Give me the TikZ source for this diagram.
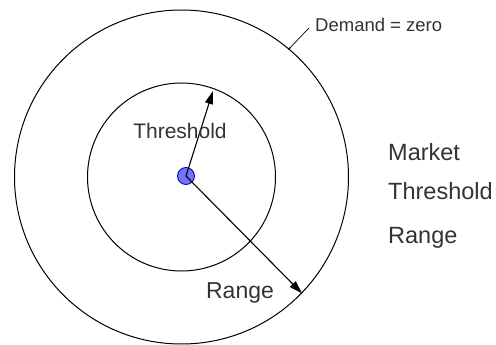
\documentclass[tikz,border=0pt]{standalone}
\usepackage{fontspec}
\setmainfont{Liberation Sans}
\usetikzlibrary{arrows.meta,positioning}

\begin{document}
\begin{tikzpicture}[x=1pt,y=-1pt,
      ring/.style={draw,circle,line width=1pt,inner sep=0pt},
      radius/.style={line width=1.1pt,-{Triangle[length=13pt,width=8pt]}},
      lbl/.style={inner sep=0pt,font=\fontsize{21}{25}\selectfont},
      key/.style={lbl,anchor=west,font=\fontsize{23.5}{28}\selectfont},
      every node/.style={text=black!80}
]
\useasboundingbox (0,0) rectangle (496,345);
\node[ring,minimum size=334pt] (outer) at (181.5,177) {};
\node[ring,minimum size=188pt] (inner) at (181.5,177) {};
\node[circle,draw=blue!50!black,fill=blue!55!white,line width=0.8pt,minimum size=17pt,inner sep=0pt] (dot) at (186,176) {};

\draw[radius,shorten >=3pt] (dot.center) -- (inner.70);
\draw[radius] (dot.center) -- (outer.-44);

\node[lbl] (thr) at (180,131) {Threshold};
\node[lbl,font=\fontsize{23}{27}\selectfont] (rng) at (240,293) {Range};

\node[inner sep=0pt,anchor=west,font=\fontsize{18.5}{22}\selectfont] (dz) at (315,25) {Demand = zero};
\draw[line width=0.7pt] (outer.50) -- ([xshift=-6pt,yshift=-3pt]dz.west);
\fill (outer.50) circle (1.3pt);

% legend
\node[key] (mkt) at (388,152) {Market};
\node[key] (kthr) at (388,191) {Threshold};
\node[key] (krng) at (388,238) {Range};
\end{tikzpicture}
\end{document}
